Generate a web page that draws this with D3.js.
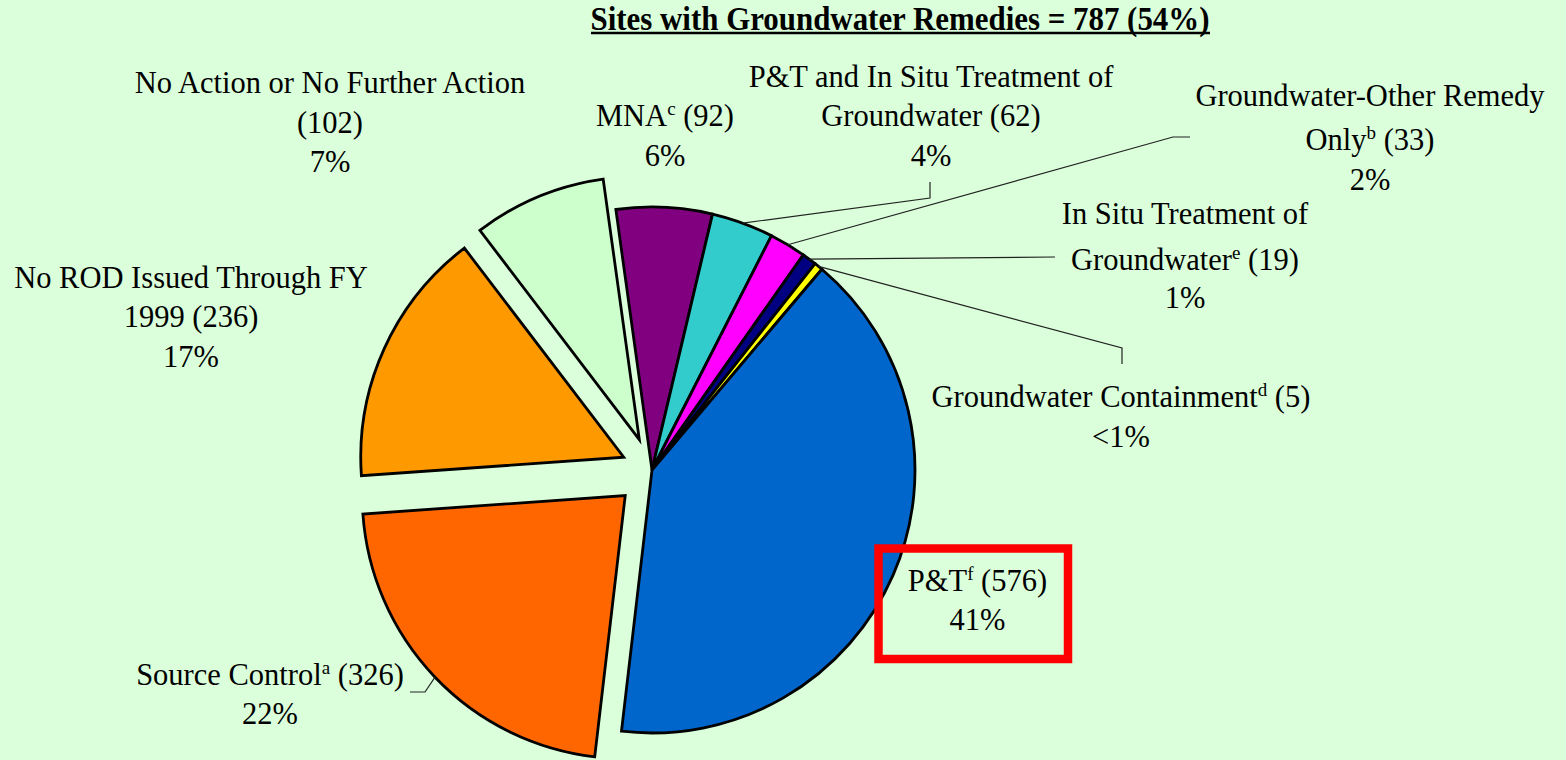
<!DOCTYPE html>
<html>
<head>
<meta charset="utf-8">
<script src="https://cdn.jsdelivr.net/npm/d3@7"></script>
<style>
  html, body { margin: 0; padding: 0; background: rgb(218,255,218); }
  svg { display: block; }
</style>
</head>
<body>
<script>
// ---------------- data ----------------
const titleText = "Sites with Groundwater Remedies = 787 (54%)";
const categories = [
  "MNA",
  "P&T and In Situ Treatment of Groundwater",
  "Groundwater-Other Remedy Only",
  "In Situ Treatment of Groundwater",
  "Groundwater Containment",
  "P&T",
  "Source Control",
  "No ROD Issued Through FY 1999",
  "No Action or No Further Action"
];
const counts = [92, 62, 33, 19, 5, 576, 326, 236, 102];
const percentLabels = ["6%", "4%", "2%", "1%", "<1%", "41%", "22%", "17%", "7%"];
// slice sizes as drawn in the picture (percent of the pie)
const shares = [5.89, 3.81, 2.25, 0.89, 0.53, 40.67, 22.03, 15.75, 8.17];
const footnotes = ["c", "", "b", "e", "d", "f", "a", "", ""];

// ---------------- styling / layout ----------------
const FONT = "'Liberation Serif', Tinos, 'Times New Roman', Times, 'DejaVu Serif', serif";
const colors = ["#800080", "#33CCCC", "#FF00FF", "#000080", "#FFFF00",
                "#0066CC", "#FF6600", "#FF9900", "#CCFFCC"];
const explodeOffset = [0, 0, 0, 0, 0, 0, 37, 31, 33];
const nameLines = [
  ["MNA"],
  ["P&T and In Situ Treatment of", "Groundwater"],
  ["Groundwater-Other Remedy", "Only"],
  ["In Situ Treatment of", "Groundwater"],
  ["Groundwater Containment"],
  ["P&T"],
  ["Source Control"],
  ["No ROD Issued Through FY", "1999"],
  ["No Action or No Further Action", ""]
];
const labelX = [665, 931, 1370, 1185, 1121, 977.5, 270, 191, 330];
const labelBaselines = [
  [126, 165.5],
  [86.5, 126, 165.5],
  [106, 150, 189.5],
  [224, 270, 308],
  [407, 446.5],
  [591, 630],
  [685, 723.5],
  [287.5, 327, 366.5],
  [93, 132.5, 172]
];
const leaderPoints = [
  null,
  [[930, 198], [930, 182]],
  [[1173, 137], [1190, 137]],
  [[1055, 257]],
  [[1122, 348], [1122, 364]],
  null,
  [[425, 692], [410, 692]],
  null,
  null
];

const W = 1566, H = 760;
const cx = 652, cy = 470, R = 263;
const startDeg = -7.9;

const svg = d3.select("body").append("svg")
  .attr("width", W).attr("height", H)
  .attr("font-family", FONT);

svg.append("rect").attr("width", W).attr("height", H).attr("fill", "rgb(218,255,218)");

// title
svg.append("text")
  .attr("x", 900).attr("y", 29.6)
  .attr("text-anchor", "middle")
  .attr("font-family", FONT)
  .attr("font-weight", "bold")
  .attr("font-size", 33)
  .attr("textLength", 619)
  .attr("lengthAdjust", "spacingAndGlyphs")
  .text(titleText);
svg.append("line")
  .attr("x1", 591).attr("x2", 1210)
  .attr("y1", 33).attr("y2", 33)
  .attr("stroke", "#000").attr("stroke-width", 2.6);

// pie
const data = categories.map((c, i) => ({ name: c, share: shares[i], i }));
const start = startDeg * Math.PI / 180;
const pie = d3.pie().sort(null).value(d => d.share)
  .startAngle(start).endAngle(start + 2 * Math.PI);
const arcs = pie(data);
const arc = d3.arc().innerRadius(0).outerRadius(R);
const edgeArc = d3.arc().innerRadius(R).outerRadius(R);

function offsetOf(d) {
  const a = (d.startAngle + d.endAngle) / 2;
  const o = explodeOffset[d.data.i];
  return [o * Math.sin(a), -o * Math.cos(a)];
}

const g = svg.append("g").attr("transform", `translate(${cx},${cy})`);
g.selectAll("path.slice").data(arcs).join("path")
  .attr("class", "slice")
  .attr("d", arc)
  .attr("transform", d => { const o = offsetOf(d); return `translate(${o[0]},${o[1]})`; })
  .attr("fill", d => colors[d.data.i])
  .attr("stroke", "#000")
  .attr("stroke-width", 2.8)
  .attr("stroke-linejoin", "miter");

// leader lines
arcs.forEach(d => {
  const pts = leaderPoints[d.data.i];
  if (!pts) return;
  const o = offsetOf(d);
  const c = edgeArc.centroid(d);
  const p0 = [cx + c[0] + o[0], cy + c[1] + o[1]];
  svg.append("path")
    .attr("d", d3.line()([p0, ...pts]))
    .attr("fill", "none")
    .attr("stroke", "#222")
    .attr("stroke-width", 1.2);
});

// labels
const FS = 30.5;
categories.forEach((c, i) => {
  const lines = nameLines[i];
  const ys = labelBaselines[i];
  const x = labelX[i];
  lines.forEach((ln, k) => {
    const t = svg.append("text")
      .attr("x", x).attr("y", ys[k])
      .attr("text-anchor", "middle")
      .attr("font-family", FONT)
      .attr("font-size", FS);
    if (k < lines.length - 1) {
      t.text(ln);
    } else {
      t.append("tspan").text(ln);
      if (footnotes[i]) {
        t.append("tspan").attr("font-size", 19).attr("dy", -11).text(footnotes[i]);
        t.append("tspan").attr("dy", 11).text(" (" + counts[i] + ")");
      } else {
        t.append("tspan").text((ln ? " " : "") + "(" + counts[i] + ")");
      }
    }
  });
  svg.append("text")
    .attr("x", x).attr("y", ys[lines.length])
    .attr("text-anchor", "middle")
    .attr("font-family", FONT)
    .attr("font-size", FS)
    .text(percentLabels[i]);
});

// highlight box around the P&T label
svg.append("rect")
  .attr("x", 878.5).attr("y", 548.5)
  .attr("width", 189.5).attr("height", 110.5)
  .attr("fill", "none")
  .attr("stroke", "#FF0000")
  .attr("stroke-width", 8.5);
</script>
</body>
</html>
